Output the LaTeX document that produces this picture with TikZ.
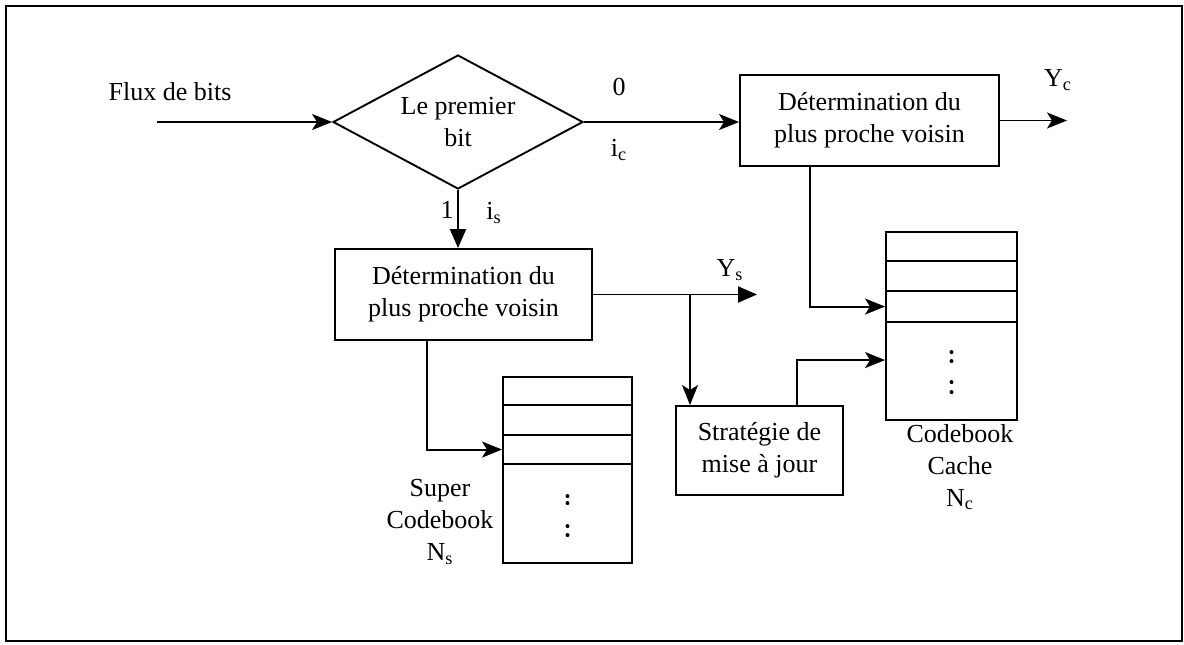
\documentclass[tikz,border=0pt]{standalone}
\usepackage{fontspec}
\setmainfont{Liberation Serif}
\usetikzlibrary{shapes.geometric,arrows.meta}
\begin{document}
\begin{tikzpicture}[x=0.5pt,y=-0.5pt,
  txt/.style={font=\fontsize{13}{16}\selectfont, align=center, inner sep=0pt},
  line/.style={line width=0.95pt},
  arr/.style={line, -{Stealth[length=10pt,width=8pt,inset=2.5pt]}},
  tri/.style={line, -{Triangle[length=9.5pt,width=8pt]}},
  blk/.style={txt, draw, line width=0.95pt, rectangle},
  decision/.style={txt, draw, line width=0.95pt, diamond, aspect=1.87},
  book/.style={draw, line width=0.95pt, rectangle, inner sep=0pt},
  dot/.style={fill=black}
]
% page and frame
\useasboundingbox (0,0) rectangle (1184,644);
\draw[line width=1pt] (6,6) rectangle (1182,641);

% blocks
\node[txt] (flux) at (170,92) {Flux de bits};
\coordinate (in) at (157,122);
\node[decision, minimum width=125pt, minimum height=67pt] (dia) at (458,122) {Le premier\\bit};
\node[blk, minimum width=129.5pt, minimum height=45.5pt] (cbox) at (869.5,120.5) {Détermination du\\plus proche voisin};
\node[blk, minimum width=128.5pt, minimum height=45.5pt] (sbox) at (463.5,294.5) {Détermination du\\plus proche voisin};
\node[blk, minimum width=83.5pt, minimum height=44.5pt] (strat) at (759.5,450.5) {Stratégie de\\mise à jour};

% super codebook
\node[book, minimum width=64.5pt, minimum height=93pt] (sc) at (567.5,470) {};
\foreach \d in {29,59,88}
  \draw[line] ([yshift=-\d*0.5pt]sc.north west) -- ([yshift=-\d*0.5pt]sc.north east);
\foreach \d in {120,127,150,159}
  \fill[dot] ([yshift=-\d*0.5pt]sc.north) circle[radius=1pt];
\coordinate (sc3) at ([yshift=-73.5*0.5pt]sc.north west);
\node[txt] (sclab) at (440,522) {Super\\Codebook\\N\textsubscript{s}};

% cache codebook
\node[book, minimum width=65.5pt, minimum height=94pt] (cc) at (951.5,326) {};
\foreach \d in {30,60,91}
  \draw[line] ([yshift=-\d*0.5pt]cc.north west) -- ([yshift=-\d*0.5pt]cc.north east);
\foreach \d in {121,130,151,161}
  \fill[dot] ([yshift=-\d*0.5pt]cc.north) circle[radius=1pt];
\coordinate (cc3) at ([yshift=-75.5*0.5pt]cc.north west);
\coordinate (cc5) at ([yshift=-129*0.5pt]cc.north west);
\node[txt] (cclab) at (960,467) {Codebook\\Cache\\N\textsubscript{c}};

% outputs
\coordinate (yc) at (1067,120.5);
\node[txt] (yclab) at (1058,80) {Y\textsubscript{c}};
\coordinate (ys) at (757,294.5);
\node[txt] (yslab) at (730,270) {Y\textsubscript{s}};
\coordinate (br) at (690,294.5);

% branch labels
\node[txt] (zero) at (619,87) {0};
\node[txt] (ic) at (619,150) {i\textsubscript{c}};
\node[txt] (one) at (447,210) {1};
\node[txt] (is) at (494,213) {i\textsubscript{s}};

% connectors
\draw[arr] (in) -- (dia.west);
\draw[arr] (dia.east) -- (dia.east -| cbox.west);
\draw[arr] (cbox.east) -- (yc);
\draw[tri] (dia.south) -- (dia.south |- sbox.north);
\draw[tri] (sbox.east) -- (ys);
\draw[arr] (br) -- (br |- strat.north);
\draw[arr] ([xshift=-18.25pt]sbox.south) |- (sc3);
\draw[arr] ([xshift=-29.75pt]cbox.south) |- (cc3);
\draw[arr] ([xshift=18.75pt]strat.north) |- (cc5);
\end{tikzpicture}
\end{document}
